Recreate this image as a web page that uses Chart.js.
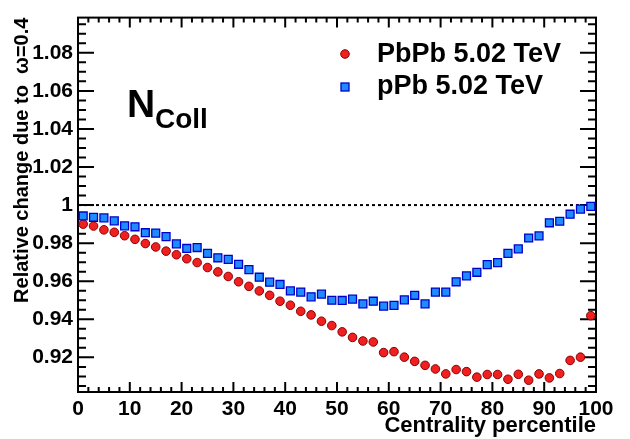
<!DOCTYPE html>
<html>
<head>
<meta charset="utf-8">
<script src="https://cdn.jsdelivr.net/npm/chart.js@4"></script>
<style>html,body{margin:0;padding:0;background:#fff;}canvas{display:block;}</style>
</head>
<body>
<canvas id="c" width="630" height="439"></canvas>
<script>
const centrality = [1,3,5,7,9,11,13,15,17,19,21,23,25,27,29,31,33,35,37,39,41,43,45,47,49,51,53,55,57,59,61,63,65,67,69,71,73,75,77,79,81,83,85,87,89,91,93,95,97,99];
const pbpb = [0.990,0.989,0.987,0.9857,0.9839,0.982,0.9798,0.978,0.9758,0.9739,
  0.9718,0.9698,0.9672,0.9649,0.9625,0.9597,0.9573,0.9549,0.9526,0.9495,
  0.9474,0.9442,0.9423,0.939,0.9367,0.9334,0.9305,0.9286,0.9281,0.9225,
  0.923,0.9201,0.9179,0.9158,0.9139,0.9113,0.9136,0.9125,0.9096,0.911,
  0.911,0.9085,0.9111,0.908,0.9113,0.9092,0.9115,0.9184,0.9201,0.9419];
const ppb = [0.9943,0.9936,0.9933,0.9917,0.9891,0.9886,0.9855,0.9853,0.9834,0.9796,
  0.9772,0.9777,0.9746,0.9723,0.9715,0.9689,0.9661,0.9621,0.9595,0.9583,
  0.9549,0.9543,0.9518,0.9532,0.95,0.9499,0.9506,0.9481,0.9495,0.9469,
  0.9473,0.9502,0.9526,0.9481,0.9543,0.9543,0.9597,0.9628,0.9647,0.9687,
  0.9698,0.9746,0.977,0.9827,0.9838,0.9907,0.9915,0.9952,0.9979,0.9993];
const unityX = [0,100];
const unityY = [1,1];
const xTicks = [0,10,20,30,40,50,60,70,80,90,100];
const yTicks = [0.92,0.94,0.96,0.98,1.00,1.02,1.04,1.06,1.08];
const seriesNames = ['PbPb 5.02 TeV','pPb 5.02 TeV'];
const xTitle = 'Centrality percentile';
const yTitle = 'Relative change due to  \u03c9=0.4';

const FONT = "'Liberation Sans', Arial, Helvetica, sans-serif";
const RED = '#f02020', RED_B = '#8a0000';
const BLUE = '#1e8cff', BLUE_B = '#0000c8';

const toPts = (xs, ys) => xs.map((x,i)=>({x:x,y:ys[i]}));

const framePlugin = {
  id:'frame',
  beforeDatasetsDraw(chart){
    const {ctx, chartArea:{left,right,top,bottom}, scales:{x,y}} = chart;
    ctx.save();
    ctx.strokeStyle='#000'; ctx.lineWidth=2; ctx.lineCap='butt';
    ctx.beginPath();
    for (let k=0;k<=50;k++){
      const v=k*2; const px=x.getPixelForValue(v); const len=(v%10===0)?10:5;
      ctx.moveTo(px,bottom); ctx.lineTo(px,bottom-len);
      ctx.moveTo(px,top); ctx.lineTo(px,top+len);
    }
    for (let k=181;k<=219;k++){
      const v=k*0.005; const py=y.getPixelForValue(v); const len=(k%4===0)?16:8;
      ctx.moveTo(left,py); ctx.lineTo(left+len,py);
      ctx.moveTo(right,py); ctx.lineTo(right-len,py);
    }
    ctx.stroke();
    ctx.strokeRect(left,top,right-left,bottom-top);
    ctx.restore();
  },
  afterDraw(chart){
    const ctx=chart.ctx;
    ctx.save();
    ctx.fillStyle='#000';
    ctx.textBaseline='alphabetic';
    ctx.textAlign='left';
    ctx.font='bold 39px '+FONT;
    ctx.fillText('N',127,117);
    ctx.font='bold 28px '+FONT;
    ctx.fillText('Coll',155,128);
    // legend
    ctx.font='bold 27px '+FONT;
    ctx.fillText(seriesNames[0],377,62);
    ctx.fillText(seriesNames[1],377,94);
    ctx.lineWidth=1;
    ctx.beginPath(); ctx.arc(345,54,4.3,0,Math.PI*2);
    ctx.fillStyle=RED; ctx.fill(); ctx.strokeStyle=RED_B; ctx.stroke();
    ctx.fillStyle=BLUE; ctx.fillRect(341,83,8,8);
    ctx.strokeStyle=BLUE_B; ctx.lineWidth=1.3; ctx.strokeRect(341,83,8,8);
    ctx.restore();
  }
};

new Chart(document.getElementById('c'), {
  type:'scatter',
  data:{
    datasets:[
      {label:'unity', data:toPts(unityX,unityY), showLine:true, pointRadius:0,
       borderColor:'#000', borderWidth:2, borderDash:[3,3], order:3},
      {label:seriesNames[0], data:toPts(centrality,pbpb), pointStyle:'circle', pointRadius:4.3,
       backgroundColor:RED, borderColor:RED_B, borderWidth:1, order:2},
      {label:seriesNames[1], data:toPts(centrality,ppb), pointStyle:'rect', pointRadius:5.6,
       backgroundColor:BLUE, borderColor:BLUE_B, borderWidth:1.3, order:1}
    ]
  },
  options:{
    responsive:false, animation:false,
    layout:{padding:{top:13,right:34,left:0,bottom:0}},
    plugins:{legend:{display:false}, tooltip:{enabled:false}},
    scales:{
      x:{type:'linear', min:0, max:100,
        grid:{display:false, drawTicks:false}, border:{display:false},
        afterBuildTicks:s=>{s.ticks=xTicks.map(v=>({value:v}));},
        afterFit:s=>{s.height=47;},
        ticks:{color:'#000', padding:5, maxRotation:0, autoSkip:false,
          font:{family:FONT, size:21, weight:'bold'}, callback:v=>String(v)},
        title:{display:true, text:xTitle, align:'end', color:'#000',
          font:{family:FONT, size:22, weight:'bold'}, padding:{top:0,bottom:0}}
      },
      y:{type:'linear', min:0.9018, max:1.0985,
        grid:{display:false, drawTicks:false}, border:{display:false},
        afterBuildTicks:s=>{s.ticks=yTicks.map(v=>({value:v}));},
        afterFit:s=>{s.width=78;},
        ticks:{color:'#000', padding:5, autoSkip:false,
          font:{family:FONT, size:21, weight:'bold'},
          callback:v=>(Math.abs(v-1)<1e-9?'1':Number(v).toFixed(2))},
        title:{display:true, text:yTitle, align:'end', color:'#000',
          font:{family:FONT, size:20, weight:'bold'}, padding:{top:10,bottom:0}}
      }
    }
  },
  plugins:[framePlugin]
});
</script>
</body>
</html>
